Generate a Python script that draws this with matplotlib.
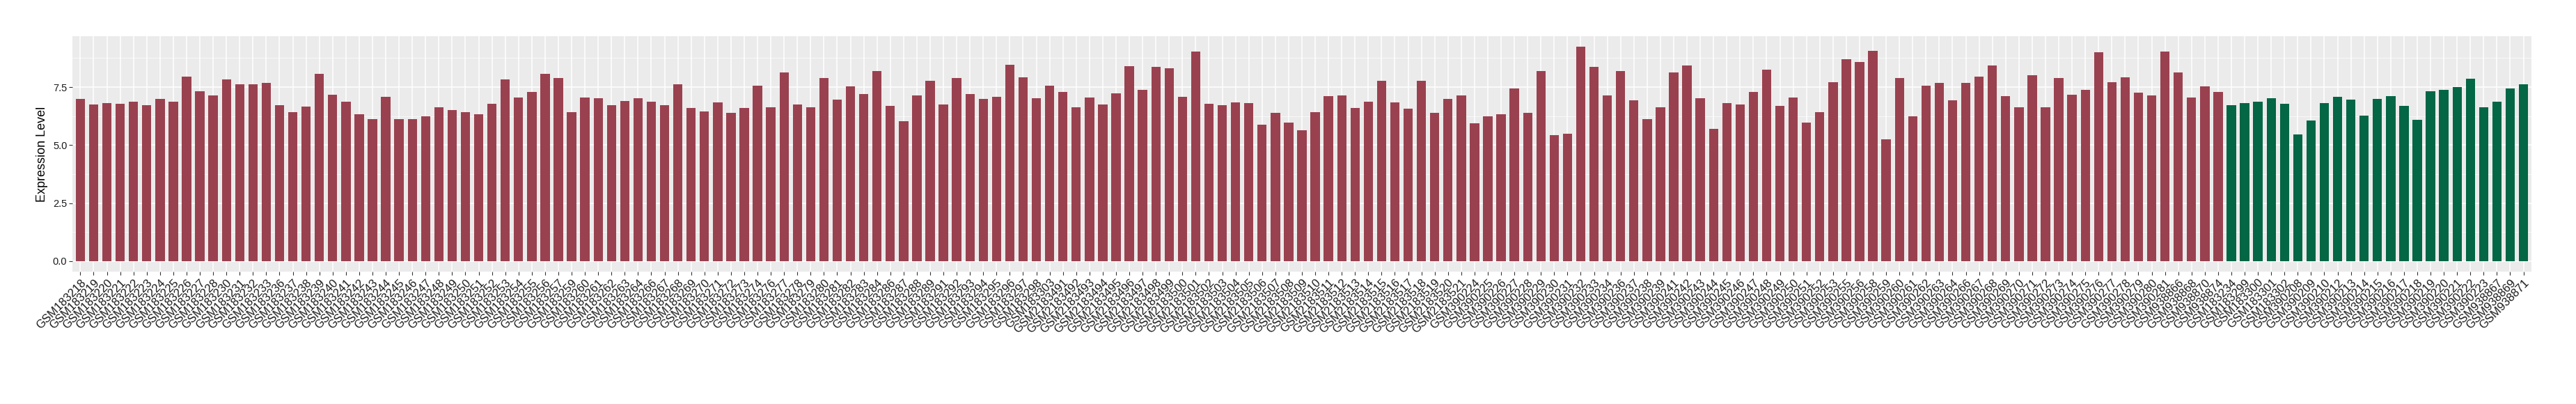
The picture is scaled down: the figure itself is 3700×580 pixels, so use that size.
import matplotlib
matplotlib.use("Agg")
import matplotlib.pyplot as plt
import numpy as np
from matplotlib.ticker import FixedLocator

plt.rcParams['font.family'] = ['Liberation Sans', 'DejaVu Sans']

# tumour samples (red bars)
tumor_samples = [
    "GSM183218", "GSM183219", "GSM183220", "GSM183221", "GSM183222", "GSM183223",
    "GSM183224", "GSM183225", "GSM183226", "GSM183227", "GSM183228", "GSM183230",
    "GSM183231", "GSM183232", "GSM183233", "GSM183236", "GSM183237", "GSM183238",
    "GSM183239", "GSM183240", "GSM183241", "GSM183242", "GSM183243", "GSM183244",
    "GSM183245", "GSM183246", "GSM183247", "GSM183248", "GSM183249", "GSM183250",
    "GSM183251", "GSM183252", "GSM183253", "GSM183254", "GSM183255", "GSM183256",
    "GSM183257", "GSM183259", "GSM183260", "GSM183261", "GSM183262", "GSM183263",
    "GSM183264", "GSM183266", "GSM183267", "GSM183268", "GSM183269", "GSM183270",
    "GSM183271", "GSM183272", "GSM183273", "GSM183274", "GSM183276", "GSM183277",
    "GSM183278", "GSM183279", "GSM183280", "GSM183281", "GSM183282", "GSM183283",
    "GSM183284", "GSM183286", "GSM183287", "GSM183288", "GSM183289", "GSM183291",
    "GSM183292", "GSM183293", "GSM183294", "GSM183295", "GSM183296", "GSM183297",
    "GSM183298", "GSM183303",
    "GSM2183491", "GSM2183492", "GSM2183493", "GSM2183494", "GSM2183495",
    "GSM2183496", "GSM2183497", "GSM2183498", "GSM2183499", "GSM2183500",
    "GSM2183501", "GSM2183502", "GSM2183503", "GSM2183504", "GSM2183505",
    "GSM2183506", "GSM2183507", "GSM2183508", "GSM2183509", "GSM2183510",
    "GSM2183511", "GSM2183512", "GSM2183513", "GSM2183514", "GSM2183515",
    "GSM2183516", "GSM2183517", "GSM2183518", "GSM2183519", "GSM2183520",
    "GSM2183521",
    "GSM390224", "GSM390225", "GSM390226", "GSM390227", "GSM390228", "GSM390229",
    "GSM390230", "GSM390231", "GSM390232", "GSM390233", "GSM390234", "GSM390236",
    "GSM390237", "GSM390238", "GSM390239", "GSM390241", "GSM390242", "GSM390243",
    "GSM390244", "GSM390245", "GSM390246", "GSM390247", "GSM390248", "GSM390249",
    "GSM390250", "GSM390251", "GSM390252", "GSM390253", "GSM390255", "GSM390256",
    "GSM390258", "GSM390259", "GSM390260", "GSM390261", "GSM390262", "GSM390263",
    "GSM390264", "GSM390266", "GSM390267", "GSM390268", "GSM390269", "GSM390270",
    "GSM390271", "GSM390272", "GSM390273", "GSM390274", "GSM390275", "GSM390276",
    "GSM390277", "GSM390278", "GSM390279", "GSM390280", "GSM390281",
    "GSM938866", "GSM938868", "GSM938870", "GSM938874",
]
tumor_values = [
    6.99, 6.75, 6.80, 6.78, 6.88, 6.72, 6.99, 6.88, 7.96, 7.31,
    7.13, 7.82, 7.63, 7.63, 7.69, 6.72, 6.43, 6.67, 8.06, 7.18,
    6.86, 6.32, 6.13, 7.07, 6.11, 6.13, 6.24, 6.62, 6.51, 6.43,
    6.32, 6.78, 7.82, 7.04, 7.29, 8.06, 7.88, 6.43, 7.04, 7.02,
    6.72, 6.91, 7.02, 6.86, 6.72, 7.61, 6.59, 6.46, 6.83, 6.38,
    6.59, 7.55, 6.64, 8.14, 6.75, 6.64, 7.90, 6.96, 7.53, 7.21,
    8.20, 6.70, 6.03, 7.13, 7.77, 6.75, 7.88, 7.21, 6.99, 7.07,
    8.46, 7.93, 7.02, 7.55, 7.29, 6.62, 7.04, 6.75, 7.23, 8.41,
    7.37, 8.36, 8.30, 7.07, 9.03, 6.78, 6.72, 6.83, 6.80, 5.89,
    6.38, 5.97, 5.65, 6.43, 7.10, 7.15, 6.59, 6.88, 7.77, 6.83,
    6.56, 7.77, 6.40, 6.99, 7.13, 5.95, 6.24, 6.32, 7.45, 6.40,
    8.20, 5.44, 5.49, 9.24, 8.36, 7.15, 8.20, 6.94, 6.11, 6.62,
    8.12, 8.44, 7.02, 5.71, 6.80, 6.75, 7.29, 8.25, 6.70, 7.04,
    5.97, 6.43, 7.71, 8.71, 8.57, 9.05, 5.25, 7.90, 6.24, 7.55,
    7.69, 6.94, 7.69, 7.96, 8.44, 7.10, 6.64, 8.01, 6.64, 7.90,
    7.18, 7.39, 9.00, 7.71, 7.93, 7.26, 7.13, 9.03, 8.14, 7.04,
    7.53, 7.29,
]

# normal samples (green bars)
normal_samples = [
    "GSM183234", "GSM183299", "GSM183300", "GSM183301", "GSM183302",
    "GSM390208", "GSM390209", "GSM390210", "GSM390212", "GSM390213",
    "GSM390214", "GSM390215", "GSM390216", "GSM390217", "GSM390218",
    "GSM390219", "GSM390220", "GSM390221", "GSM390222", "GSM390223",
    "GSM938867", "GSM938869", "GSM938871",
]
normal_values = [
    6.72, 6.80, 6.88, 7.02, 6.78, 5.46, 6.05, 6.80, 7.07, 6.96,
    6.27, 6.99, 7.10, 6.70, 6.08, 7.31, 7.37, 7.50, 7.85, 6.64,
    6.88, 7.45, 7.61,
]

tumor_color = "#9A4150"
normal_color = "#036645"

samples = tumor_samples + normal_samples
values = tumor_values + normal_values
colors = [tumor_color] * len(tumor_samples) + [normal_color] * len(normal_samples)
x = np.arange(len(samples))

fig = plt.figure(figsize=(37, 5.8), dpi=100)
ax = fig.add_axes([0.0281, 0.327, 0.9546, 0.584])

ax.set_facecolor("#EBEBEB")
ax.bar(x, values, width=0.7, color=colors, zorder=3)

# ggplot-like scale expansion
ymax = max(values)
ax.set_ylim(-0.05 * ymax, ymax * 1.05)
ax.set_xlim(-0.6, len(samples) - 1 + 0.6)
ax.yaxis.set_major_locator(FixedLocator([0, 2.5, 5.0, 7.5]))
ax.yaxis.set_minor_locator(FixedLocator([1.25, 3.75, 6.25, 8.75]))
ax.set_yticklabels(["0.0", "2.5", "5.0", "7.5"])
ax.set_xticks(x)
ax.set_xticklabels(samples, rotation=45, ha="right", rotation_mode="anchor")

ax.grid(which="major", color="white", linewidth=1.1, zorder=0)
ax.grid(which="minor", axis="y", color="white", linewidth=0.5, zorder=0)
ax.set_axisbelow(True)

for s in ax.spines.values():
    s.set_visible(False)

ax.tick_params(axis="both", which="major", length=3.5, width=0.8, color="#333333",
               labelcolor="#1A1A1A", pad=2)
ax.tick_params(axis="x", labelsize=12)
ax.tick_params(axis="y", labelsize=10.5)
ax.tick_params(axis="y", which="minor", length=0)

ax.set_ylabel("Expression Level", fontsize=13, labelpad=5)

fig.savefig("out.png", dpi=100, facecolor="white")
